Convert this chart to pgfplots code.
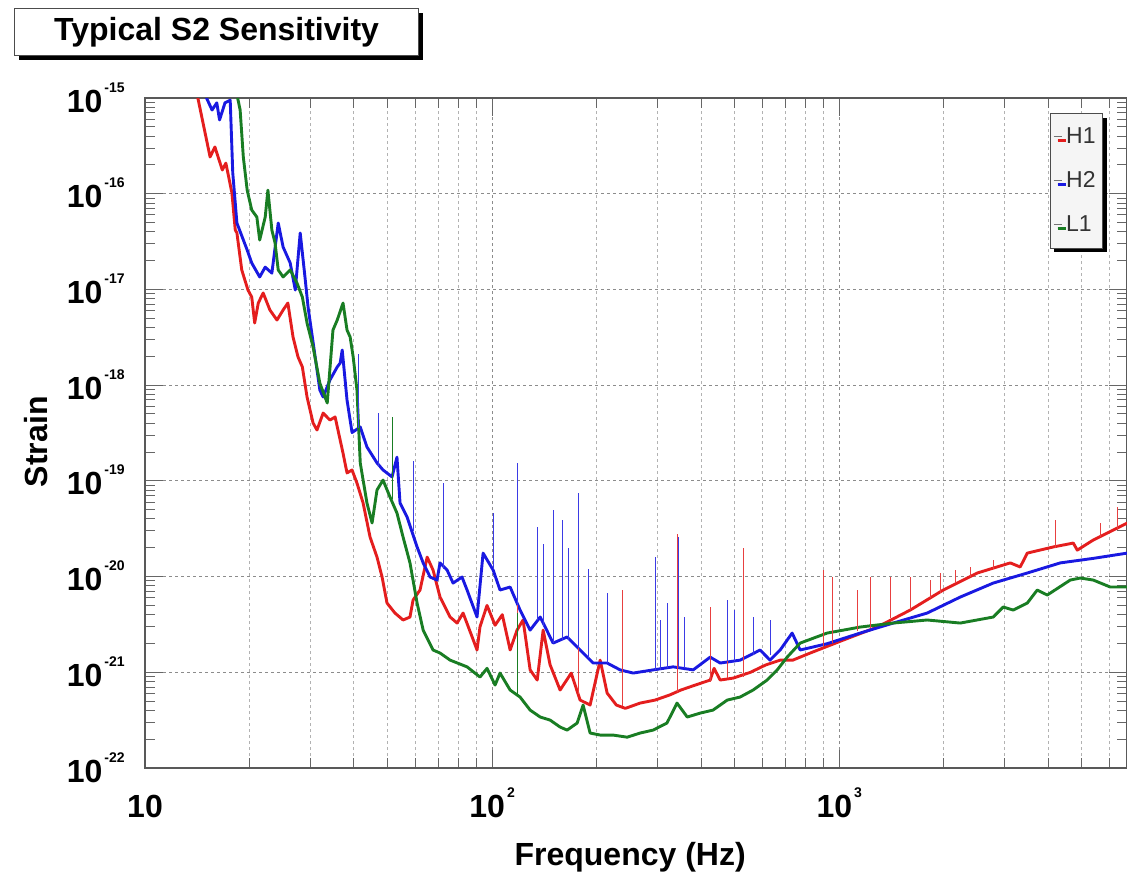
\documentclass[border=0pt]{standalone}
\usepackage{pgfplots}
\pgfplotsset{compat=1.18}
\usepackage{graphicx}
\usepackage{fontspec}
\setmainfont{Liberation Sans}
\usetikzlibrary{shadows}
\definecolor{cred}{RGB}{228,30,30}
\definecolor{cblue}{RGB}{25,25,225}
\definecolor{cgreen}{RGB}{25,125,35}
\newcommand{\tp}[1]{\textbf{10}\hspace{1pt}\raisebox{10pt}{\fontsize{7}{7}\selectfont\textbf{#1}}}

\begin{document}
\begin{tikzpicture}
\useasboundingbox (0,0) rectangle (563.5pt,438pt);
\begin{axis}[
  at={(72.5pt,54pt)}, anchor=south west,
  scale only axis, width=491pt, height=335pt,
  xmode=log, ymode=log,
  xmin=10, xmax=6750, ymin=1e-22, ymax=1e-15,
  axis line style={black!65, line width=0.6pt},
  xtick={10,100,1000},
  xticklabels={\textbf{10},\tp{2},\tp{3}},
  minor xtick={20,30,40,50,60,70,80,90,200,300,400,500,600,700,800,900,2000,3000,4000,5000,6000},
  ytick={1e-22,1e-21,1e-20,1e-19,1e-18,1e-17,1e-16,1e-15},
  yticklabels={\tp{-22},\tp{-21},\tp{-20},\tp{-19},\tp{-18},\tp{-17},\tp{-16},\tp{-15}},
  minor ytick={2e-22,3e-22,4e-22,5e-22,6e-22,7e-22,8e-22,9e-22,
               2e-21,3e-21,4e-21,5e-21,6e-21,7e-21,8e-21,9e-21,
               2e-20,3e-20,4e-20,5e-20,6e-20,7e-20,8e-20,9e-20,
               2e-19,3e-19,4e-19,5e-19,6e-19,7e-19,8e-19,9e-19,
               2e-18,3e-18,4e-18,5e-18,6e-18,7e-18,8e-18,9e-18,
               2e-17,3e-17,4e-17,5e-17,6e-17,7e-17,8e-17,9e-17,
               2e-16,3e-16,4e-16,5e-16,6e-16,7e-16,8e-16,9e-16},
  xmajorgrids, xminorgrids, ymajorgrids,
  major grid style={black!45, dash pattern=on 1.5pt off 1.5pt, line width=0.5pt},
  minor grid style={black!30, dash pattern=on 1.5pt off 1.5pt, line width=0.5pt},
  tick align=inside, major tick length=9pt, minor tick length=5pt,
  tick style={black!60, line width=0.5pt},
  ticklabel style={font=\fontsize{16}{16}\selectfont\bfseries, inner sep=0pt},
  xticklabel style={anchor=base, yshift=-24.5pt},
  yticklabel style={anchor=base east, xshift=-10pt, yshift=-7pt},
  xlabel={Frequency (Hz)},
  ylabel={Strain},
  label style={font=\fontsize{16}{16}\selectfont\bfseries, inner sep=0pt},
  xlabel style={at={(axis description cs:0.494,-0.1448)}, anchor=base},
  ylabel style={at={(axis description cs:-0.0988,0.487)}, anchor=base, rotate=0},
  legend style={at={(0.9756,0.9776)}, anchor=north east, draw=black!70,
    fill=black!4, font=\fontsize{11.5}{12}\selectfont, row sep=8.5pt,
    inner xsep=1.5pt, inner ysep=5pt, line width=0.5pt, text=black!80,
    general shadow={fill=black, shadow xshift=2pt, shadow yshift=-2pt}},
  legend cell align=left,
  legend image code/.code={\draw[draw=black!55, line width=0.5pt] (0pt,0pt) -- (4pt,0pt);},
  every axis plot/.append style={line join=round},
]
% H1 (red)
\addplot[cred, line width=1.45pt] coordinates {
(14.0,1.3e-15)(14.2,1.0e-15)(15.4,2.42e-16)(15.9,3.08e-16)(16.7,1.77e-16)(17.1,2.09e-16)
(17.8,1.02e-16)(18.2,4.18e-17)(18.4,3.89e-17)(19.0,1.60e-17)(19.8,9.86e-18)(20.3,8.33e-18)
(20.7,4.46e-18)(21.2,7.21e-18)(21.9,9.18e-18)(22.9,6.1e-18)(24.0,4.79e-18)(25.0,6.1e-18)
(25.8,7.21e-18)(26.7,3.18e-18)(27.6,1.97e-18)(28.4,1.55e-18)(29.3,7.52e-19)(30.5,4.02e-19)
(31.3,3.40e-19)(32.6,5.11e-19)(34.1,4.32e-19)(35.3,4.65e-19)(37.2,1.95e-19)(38.2,1.21e-19)
(39.5,1.30e-19)(40.8,9.49e-20)(42.5,5.87e-20)(44.5,2.59e-20)(46.6,1.60e-20)(48.2,9.89e-21)
(49.8,5.29e-21)(52.5,4.16e-21)(55.4,3.52e-21)(58.0,3.78e-21)(59.2,5.69e-21)(62.0,7.24e-21)
(65.0,1.60e-20)(67.6,1.17e-20)(70.8,6.11e-21)(75.7,3.78e-21)(79.3,3.27e-21)(82.5,4.16e-21)
(87.6,2.34e-21)(90.5,1.71e-21)(92.3,3.0e-21)(96.7,5.0e-21)(102,3.1e-21)(107,4.0e-21)
(112.7,1.71e-21)(118,2.76e-21)(122.8,3.52e-21)(128.7,1.06e-21)(134.9,8.3e-22)(140.3,2.76e-21)
(146.9,1.2e-21)(157,6.53e-22)(169,9.8e-22)(179.3,5.13e-22)(191.6,4.55e-22)(204.8,1.34e-21)
(214.5,6.07e-22)(228,4.55e-22)(242,4.2e-22)(267,4.77e-22)(295,5.13e-22)(325,5.8e-22)
(350,6.53e-22)(385,7.36e-22)(425,8.3e-22)(436,1.1e-21)(454,8.3e-22)(495,8.7e-22)
(555,1.0e-21)(613,1.19e-21)(676,1.34e-21)(735,1.34e-21)(825,1.59e-21)(1027,2.17e-21)
(1287,2.97e-21)(1602,4.47e-21)(1994,7.24e-21)(2499,1.09e-20)(3111,1.39e-20)(3323,1.26e-20)
(3483,1.76e-20)(4138,2.04e-20)(4725,2.24e-20)(4852,1.89e-20)(5395,2.41e-20)(6160,3.06e-20)
(6761,3.63e-20)};
\addlegendentry{H1}
% H2 (blue)
\addplot[cblue, line width=1.45pt] coordinates {
(14.7,1.2e-15)(15.6,7.5e-16)(16.1,8.9e-16)(16.4,5.9e-16)(17.0,8.9e-16)(17.6,9.5e-16)
(17.9,1.65e-16)(18.4,4.94e-17)(19.7,2.58e-17)(20.3,1.89e-17)(21.4,1.35e-17)(22.2,1.71e-17)
(23.2,1.48e-17)(24.2,4.94e-17)(25.0,2.77e-17)(26.2,1.89e-17)(27.1,9.86e-18)(28.0,3.89e-17)
(28.9,1.35e-17)(29.5,6.55e-18)(30.5,2.8e-18)(31.9,8.89e-19)(32.6,7.52e-19)(34.1,1.13e-18)
(35.8,1.55e-18)(36.5,1.70e-18)(37.0,2.33e-18)(38.2,7.0e-19)(39.5,3.2e-19)(41.7,3.65e-19)
(43.6,2.26e-19)(46.6,1.54e-19)(48.5,1.30e-19)(51.5,1.10e-19)(53.2,1.77e-19)(54.3,5.87e-20)
(56.9,4.19e-20)(60.8,2.04e-20)(63.3,1.39e-20)(66.3,9.89e-21)(69.4,9.20e-21)(70.8,1.39e-20)
(74.2,1.17e-20)(77.2,8.56e-21)(81.9,9.89e-21)(84.7,7.24e-21)(90.5,3.78e-21)(94.2,1.76e-20)
(100.7,1.17e-20)(105.4,7.24e-21)(112.7,7.78e-21)(120.4,4.47e-21)(128.7,2.76e-21)(137.6,3.78e-21)
(149.9,2.02e-21)(164.5,2.34e-21)(179.3,1.71e-21)(195.5,1.25e-21)(214.5,1.25e-21)(233.8,1.06e-21)
(254.9,9.82e-22)(291.1,1.06e-21)(332.4,1.14e-21)(379.7,1.06e-21)(424.9,1.44e-21)(454.1,1.25e-21)
(518.5,1.34e-21)(592,1.71e-21)(632,1.34e-21)(676,1.71e-21)(732,2.57e-21)(772,1.71e-21)
(923,1.99e-21)(1149,2.57e-21)(1431,3.27e-21)(1793,4.16e-21)(2232,6.11e-21)(2779,8.56e-21)
(3483,1.09e-20)(4335,1.39e-20)(5395,1.55e-20)(6761,1.76e-20)};
\addlegendentry{H2}
% L1 (green)
\addplot[cgreen, line width=1.45pt] coordinates {
(18.3,1.2e-15)(18.8,7.5e-16)(19.2,2.42e-16)(19.7,1.09e-16)(20.3,6.76e-17)(21.0,5.71e-17)
(21.4,3.28e-17)(22.2,5.71e-17)(22.6,1.09e-16)(23.2,4.18e-17)(23.7,3.05e-17)(24.2,1.60e-17)
(25.0,1.35e-17)(26.2,1.60e-17)(27.4,1.17e-17)(28.4,8.33e-18)(29.3,4.46e-18)(30.5,2.50e-18)
(31.9,1.05e-18)(33.5,6.51e-19)(34.8,3.77e-18)(35.8,4.79e-18)(37.2,7.21e-18)(38.2,3.77e-18)
(39.0,3.18e-18)(39.8,1.97e-18)(40.8,8.89e-19)(41.7,1.54e-19)(43.6,5.87e-20)(45.1,3.63e-20)
(46.6,8.02e-20)(48.5,1.02e-19)(50.8,6.78e-20)(53.2,4.61e-20)(55.4,2.59e-20)(58.0,1.39e-20)
(60.8,5.29e-21)(63.3,2.76e-21)(67.6,1.71e-21)(70.8,1.59e-21)(75.7,1.34e-21)(84.7,1.14e-21)
(92.3,8.92e-22)(96.7,1.1e-21)(102,7.36e-22)(105.4,9.82e-22)(112.7,6.53e-22)(120.4,5.51e-22)
(128.7,4.03e-22)(137.6,3.41e-22)(146.9,3.17e-22)(157,2.68e-22)(164.5,2.49e-22)(175.8,2.95e-22)
(182.9,4.55e-22)(191.6,2.32e-22)(204.8,2.21e-22)(223,2.21e-22)(245,2.1e-22)(267,2.32e-22)
(291,2.49e-22)(319,2.95e-22)(341,4.77e-22)(365,3.41e-22)(398,3.75e-22)(433,4.03e-22)
(476,5.13e-22)(518,5.51e-22)(565,6.53e-22)(620,8.3e-22)(663,1.06e-21)(708,1.44e-21)
(772,2.02e-21)(923,2.57e-21)(1149,2.97e-21)(1431,3.27e-21)(1793,3.52e-21)(2232,3.27e-21)
(2779,3.78e-21)(2969,4.81e-21)(3173,4.47e-21)(3483,5.29e-21)(3721,7.24e-21)(3977,6.42e-21)
(4631,9.2e-21)(4949,9.66e-21)(5395,9.2e-21)(6039,7.78e-21)(6761,7.78e-21)};
\addlegendentry{L1}
% spectral line spikes
\addplot[cred!85, line width=0.4pt, unbounded coords=jump, forget plot] coordinates {
(118,2.5e-21)(118,3.3e-20)(118,nan)
(177,6e-22)(177,2.2e-20)(177,nan)
(236.9,4.5e-22)(236.9,7.2e-21)(236.9,nan)
(341.3,6.2e-22)(341.3,2.8e-20)(341.3,nan)
(424.9,8e-22)(424.9,4.8e-21)(424.9,nan)
(475.6,8.7e-22)(475.6,5.7e-21)(475.6,nan)
(528.9,9e-22)(528.9,2.0e-20)(528.9,nan)
(899,1.9e-21)(899,1.17e-20)(899,nan)
(954,2.0e-21)(954,9.9e-21)(954,nan)
(1127,2.7e-21)(1127,7.2e-21)(1127,nan)
(1228,2.9e-21)(1228,9.9e-21)(1228,nan)
(1403,3.7e-21)(1403,9.9e-21)(1403,nan)
(1602,4.5e-21)(1602,9.9e-21)(1602,nan)
(1829,6e-21)(1829,9.2e-21)(1829,nan)
(1954,6.8e-21)(1954,1.09e-20)(1954,nan)
(2159,8.5e-21)(2159,1.17e-20)(2159,nan)
(2385,1.0e-20)(2385,1.26e-20)(2385,nan)
(2779,1.2e-20)(2779,1.49e-20)(2779,nan)
(4193,2.0e-20)(4193,3.9e-20)(4193,nan)
(5652,2.6e-20)(5652,3.6e-20)(5652,nan)
(6326,3.1e-20)(6326,5.3e-20)};
\addplot[cblue!85, line width=0.4pt, unbounded coords=jump, forget plot] coordinates {
(41.1,3.6e-19)(41.1,2.1e-18)(41.1,nan)
(46.9,1.4e-19)(46.9,5.1e-19)(46.9,nan)
(59.2,3e-20)(59.2,1.6e-19)(59.2,nan)
(72.3,1.2e-20)(72.3,9.5e-20)(72.3,nan)
(100.7,1.2e-20)(100.7,4.6e-20)(100.7,nan)
(118,5e-21)(118,1.54e-19)(118,nan)
(134.9,3.5e-21)(134.9,3.3e-20)(134.9,nan)
(140.3,3e-21)(140.3,2.2e-20)(140.3,nan)
(149.9,2e-21)(149.9,5e-20)(149.9,nan)
(159.1,2.2e-21)(159.1,3.9e-20)(159.1,nan)
(165.6,2.2e-21)(165.6,2.0e-20)(165.6,nan)
(177,1.8e-21)(177,7.5e-20)(177,nan)
(189.1,1.4e-21)(189.1,1.2e-20)(189.1,nan)
(214.5,1.25e-21)(214.5,6.7e-21)(214.5,nan)
(294.9,1.06e-21)(294.9,1.6e-20)(294.9,nan)
(306,1.06e-21)(306,3.5e-21)(306,nan)
(319,1.1e-21)(319,5.3e-21)(319,nan)
(343.6,1.1e-21)(343.6,2.6e-20)(343.6,nan)
(357,1.1e-21)(357,3.8e-21)(357,nan)
(475.6,1.3e-21)(475.6,5.7e-21)(475.6,nan)
(500,1.3e-21)(500,4.5e-21)(500,nan)
(565,1.5e-21)(565,3.8e-21)(565,nan)
(632.6,1.5e-21)(632.6,3.5e-21)};
\addplot[cgreen, line width=0.4pt, unbounded coords=jump, forget plot] coordinates {
(51.5,6.5e-20)(51.5,4.6e-19)(51.5,nan)
(118,5.5e-22)(118,4.2e-21)};
\end{axis}
\node[draw=black!70, line width=0.6pt, fill=white, minimum width=202pt,
  minimum height=23.5pt, anchor=north west, inner sep=0pt,
  general shadow={fill=black, shadow xshift=2pt, shadow yshift=-2pt},
  font=\fontsize{16}{16}\selectfont\bfseries] at (7pt,434pt) {Typical S2 Sensitivity};
\end{tikzpicture}
\end{document}
